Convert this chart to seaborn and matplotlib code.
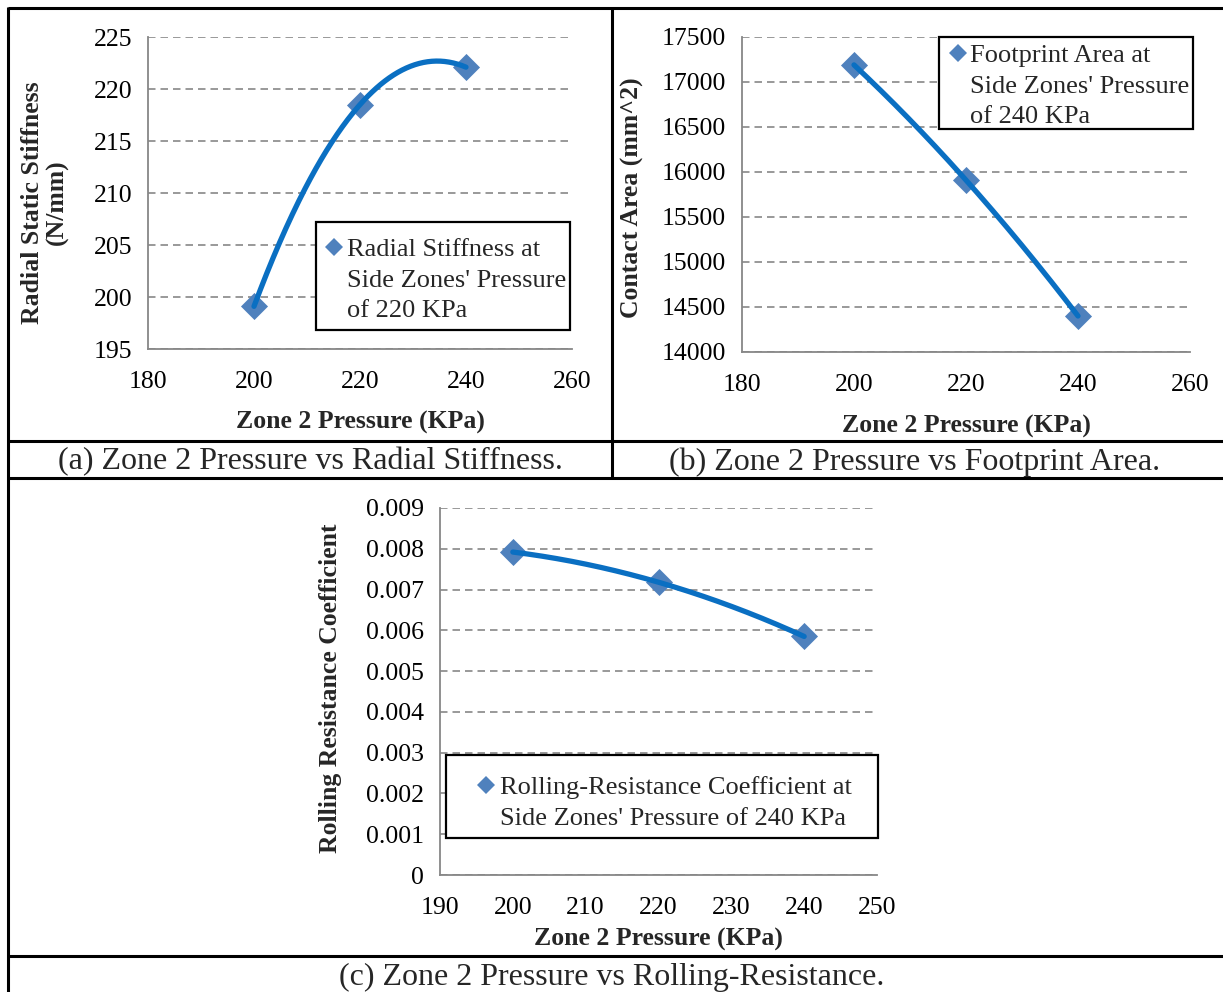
import numpy as np
import pandas as pd
import matplotlib
matplotlib.use("Agg")
import matplotlib.pyplot as plt
from matplotlib.lines import Line2D
from matplotlib.patches import Rectangle
from matplotlib.ticker import FuncFormatter, MultipleLocator
import seaborn as sns

# ---- data -------------------------------------------------------------
zone2_pressure = [200, 220, 240]                 # KPa
radial_stiffness = [199.1, 218.5, 222.1]         # N/mm (side zones at 220 KPa)
footprint_area = [17190, 15910, 14400]           # mm^2 (side zones at 240 KPa)
rolling_coeff = [0.00792, 0.00718, 0.00585]      # (side zones at 240 KPa)

legend_a = ["Radial Stiffness at", "Side Zones' Pressure", "of 220 KPa"]
legend_b = ["Footprint Area at", "Side Zones' Pressure", "of 240 KPa"]
legend_c = ["Rolling-Resistance Coefficient at", "Side Zones' Pressure of 240 KPa"]

caption_a = "(a) Zone 2 Pressure vs Radial Stiffness."
caption_b = "(b) Zone 2 Pressure vs Footprint Area."
caption_c = "(c) Zone 2 Pressure vs Rolling-Resistance."

x_label = "Zone 2 Pressure (KPa)"

# ---- style ------------------------------------------------------------
sns.set_style("white")
plt.rcParams["font.family"] = ["Liberation Serif", "DejaVu Serif"]

LINE_BLUE = "#0A6FC2"
MARK_BLUE = "#4F81BD"
GRID_GREY = "#878787"
LEG_FS = 19  # pt

W, H = 1223, 992
fig = plt.figure(figsize=(W / 100, H / 100), dpi=100)


def fx(px):
    return px / W


def fy(py):
    return 1 - py / H


def px_axes(left, top, right, bottom):
    return fig.add_axes([fx(left), fy(bottom), (right - left) / W, (bottom - top) / H])


def style_axes(ax, xlim, xstep, ylim, ystep):
    ax.set_xlim(*xlim)
    ax.set_ylim(*ylim)
    ax.xaxis.set_major_locator(MultipleLocator(xstep))
    ax.yaxis.set_major_locator(MultipleLocator(ystep))
    for side in ("top", "right"):
        ax.spines[side].set_visible(False)
    for side in ("left", "bottom"):
        ax.spines[side].set_color(GRID_GREY)
        ax.spines[side].set_linewidth(1.3)
    ax.grid(axis="y", color=GRID_GREY, linestyle=(0, (4.5, 3)), linewidth=1.2)
    ax.grid(axis="x", visible=False)
    ax.set_axisbelow(True)
    ax.tick_params(axis="both", which="major", direction="out", length=4.5,
                   width=1.3, color=GRID_GREY, labelsize=18.5, labelcolor="black")
    ax.tick_params(axis="x", pad=11)
    ax.tick_params(axis="y", pad=7)
    ax.set_facecolor("white")


def draw_series(ax, x, y):
    df = pd.DataFrame({"x": x, "y": y})
    sns.scatterplot(data=df, x="x", y="y", ax=ax, marker="D", s=190,
                    color=MARK_BLUE, edgecolor=MARK_BLUE, linewidth=0, zorder=3)
    # smooth curve passing through the three measured points
    coef = np.polyfit(df["x"], df["y"], 2)
    xs = np.linspace(df["x"].min(), df["x"].max(), 200)
    smooth = pd.DataFrame({"x": xs, "y": np.polyval(coef, xs)})
    sns.lineplot(data=smooth, x="x", y="y", ax=ax, color=LINE_BLUE,
                 linewidth=3.8, zorder=4, sort=False)


def add_legend(ax, lines, box, marker_x, text_x, mid_y):
    """box = (left, top, right, bottom) in pixels; entries centred on mid_y."""
    l, t, r, b = box
    frame = Rectangle((fx(l), fy(b)), (r - l) / W, (b - t) / H,
                      transform=fig.transFigure, facecolor="white",
                      edgecolor="black", linewidth=1.6, zorder=5)
    ax.add_patch(frame)
    frame.set_clip_on(False)

    fs_px = LEG_FS * 100 / 72
    hl = 0.8
    htp = (text_x - marker_x - hl * fs_px / 2) / fs_px
    handles = [Line2D([], [], linestyle="none", marker="D", markersize=9,
                      color=MARK_BLUE, markeredgewidth=0)]
    handles += [Line2D([], [], linestyle="none", marker=None) for _ in lines[1:]]
    leg = ax.legend(handles, lines, loc="center left",
                    bbox_to_anchor=(fx(marker_x - hl * fs_px / 2), fy(mid_y)),
                    bbox_transform=fig.transFigure, borderaxespad=0, borderpad=0,
                    fontsize=LEG_FS, frameon=False, labelspacing=0.27,
                    handlelength=hl, handletextpad=htp)
    leg.set_zorder(6)
    return leg


def set_labels(ax, ylabel, ylab_x, ylab_y, xlab_y):
    ax.set_xlabel(x_label, fontsize=18.5, fontweight="bold", va="center")
    ax.xaxis.set_label_coords(0.5, xlab_y)
    ax.set_ylabel(ylabel, fontsize=18.5, fontweight="bold", va="center",
                  multialignment="center", linespacing=1.05)
    ax.yaxis.set_label_coords(ylab_x, ylab_y)


# ---- (a) radial stiffness ---------------------------------------------
ax_a = px_axes(148, 37, 572, 349)
style_axes(ax_a, (180, 260), 20, (195, 225), 5)
draw_series(ax_a, zone2_pressure, radial_stiffness)
set_labels(ax_a, "Radial Static Stiffness\n(N/mm)", -0.243, 0.47, -0.235)
add_legend(ax_a, legend_a, (316, 222, 570, 330), 334, 347, 280)

# ---- (b) footprint area -----------------------------------------------
ax_b = px_axes(742, 37, 1190, 352)
style_axes(ax_b, (180, 260), 20, (14000, 17500), 500)
draw_series(ax_b, zone2_pressure, footprint_area)
set_labels(ax_b, "Contact Area (mm^2)", -0.2455, 0.49, -0.235)
add_legend(ax_b, legend_b, (939, 37, 1193, 129), 958, 970, 86)

# ---- (c) rolling resistance -------------------------------------------
ax_c = px_axes(440, 508, 877, 875)
style_axes(ax_c, (190, 250), 10, (0, 0.009), 0.001)
ax_c.yaxis.set_major_formatter(FuncFormatter(lambda v, _: "0" if abs(v) < 1e-12 else f"{v:.3f}"))
draw_series(ax_c, zone2_pressure, rolling_coeff)
set_labels(ax_c, "Rolling Resistance Coefficient", -0.2517, 0.51, -0.176)
add_legend(ax_c, legend_c, (446, 755, 878, 838), 486, 500, 803)

# ---- captions ---------------------------------------------------------
fig.text(fx(310), fy(462), caption_a, fontsize=23, ha="center", va="center")
fig.text(fx(915), fy(462), caption_b, fontsize=23, ha="center", va="center")
fig.text(fx(612), fy(977), caption_c, fontsize=23, ha="center", va="center")


# ---- table rules ------------------------------------------------------
def rule(x0, y0, x1, y1, lw=2.2):
    fig.add_artist(Line2D([fx(x0), fx(x1)], [fy(y0), fy(y1)],
                          transform=fig.transFigure, color="black", linewidth=lw,
                          solid_capstyle="butt"))


rule(7.5, 7.5, W, 7.5)          # top
rule(7.5, 6.5, 7.5, H)          # left
rule(612, 7.5, 612, 478)        # divider between (a) and (b)
rule(7.5, 441, W, 441)          # above top captions
rule(7.5, 478, W, 478)          # below top captions
rule(7.5, 956, W, 956)          # above bottom caption

fig.savefig("out.png", dpi=100, facecolor="white")
